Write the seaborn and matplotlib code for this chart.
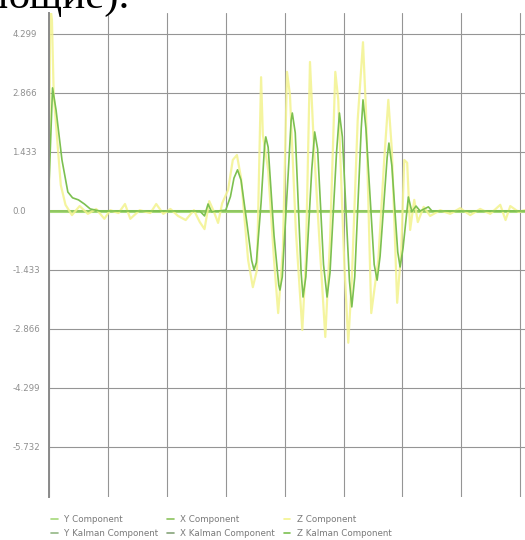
import numpy as np
import pandas as pd
import seaborn as sns
import matplotlib.pyplot as plt
from matplotlib.lines import Line2D

# accelerometer components, sample index vs value
x_flat = [0, 404]
y_comp = [0.0, 0.0]
x_comp = [0.0, 0.0]

z_x = [0, 1, 2.5, 4, 7, 10, 14, 19.5, 26, 33, 40, 47, 52, 59, 64.5, 69, 77, 86, 91, 97,
       103, 109.5, 116, 123, 128, 132, 136, 140, 143.5, 147, 152, 156, 159.5, 163, 169,
       173, 176.5, 180, 181.5, 186, 191, 194.5, 198.5, 202, 204.5, 209.5, 215, 218,
       221.5, 225, 230, 234.5, 238.5, 243, 245.5, 250.5, 254, 257, 262, 266.5, 269,
       273.5, 279.5, 284.5, 288, 291, 295.5, 299, 301.5, 304, 306.5, 310, 313, 318,
       323.5, 332, 340.5, 349, 357.5, 366, 374.5, 383, 387.5, 391.5, 398.5, 404]
z_comp = [0.51, 5.0, 4.64, 2.82, 1.72, 0.63, 0.15, -0.10, 0.12, -0.07, 0.05, -0.19, 0.02,
          -0.05, 0.17, -0.19, 0.02, -0.05, 0.17, -0.07, 0.05, -0.12, -0.22, 0.02, -0.27,
          -0.44, 0.24, -0.02, -0.29, 0.19, 0.51, 1.24, 1.36, 0.80, -1.19, -1.85, -1.43,
          3.25, 1.85, 1.0, -1.19, -2.48, -0.95, 3.38, 2.82, -0.46, -2.89, -1.19, 3.62,
          1.48, -0.95, -3.06, -0.73, 3.38, 2.70, -1.19, -3.2, -1.68, 2.21, 4.10, 2.45,
          -2.48, -1.19, 1.24, 2.70, 1.48, -2.23, -0.95, 1.24, 1.17, -0.46, 0.27, -0.27,
          0.10, -0.12, 0.02, -0.07, 0.07, -0.10, 0.05, -0.07, 0.15, -0.22, 0.12, -0.02, 0.02]

zk_x = [0, 2, 3, 6, 11, 16, 20, 25, 30, 35, 43, 128, 132, 135, 138, 144, 150, 154, 157,
        160, 163, 168, 172, 174, 176, 180, 183, 184, 186, 191, 195, 196, 198, 203, 205.5,
        206.5, 209, 214, 215.6, 218, 223, 225.5, 228, 233, 236, 238.5, 244, 246.5, 249,
        255, 257, 259.5, 265, 266.5, 269, 276, 278.5, 281, 287, 288.5, 291, 296, 298,
        300.5, 305, 308, 311.5, 315, 322, 325, 404]
z_kalman = [0.63, 2.2, 2.99, 2.45, 1.24, 0.46, 0.32, 0.27, 0.17, 0.05, 0.0, 0.0, -0.12,
            0.17, -0.02, 0.0, 0.02, 0.35, 0.8, 1.0, 0.75, -0.3, -1.2, -1.43, -1.25, 0.2,
            1.6, 1.80, 1.55, -0.6, -1.8, -1.92, -1.6, 0.9, 2.2, 2.38, 1.9, -1.5, -2.09,
            -1.6, 1.0, 1.92, 1.5, -1.3, -2.09, -1.5, 1.4, 2.38, 1.8, -1.7, -2.33, -1.6,
            2.0, 2.70, 2.0, -1.3, -1.68, -1.1, 1.3, 1.65, 1.1, -1.0, -1.36, -0.9, 0.34,
            -0.02, 0.12, 0.0, 0.10, 0.0, 0.0]

y_ticks = [4.299, 2.866, 1.433, 0.0, -1.433, -2.866, -4.299, -5.732]
y_labels = ["4.299", "2.866", "1.433", "0.0", "-1.433", "-2.866", "-4.299", "-5.732"]
x_grid = [0, 50, 100, 150, 200, 250, 300, 350, 400]

names = ["Y Component", "X Component", "Z Component",
         "Y Kalman Component", "X Kalman Component", "Z Kalman Component"]
colors = ["#a6d97a", "#8cc45e", "#f3f38e", "#93b885", "#86a47a", "#7cc050"]

sns.set_style("white")
fig = plt.figure(figsize=(5.25, 5.4), dpi=100)
ax = fig.add_axes([49 / 525, 43 / 540, 476 / 525, 484 / 540])

sns.lineplot(x=x_flat, y=y_comp, ax=ax, color=colors[0], lw=2.2)
sns.lineplot(x=x_flat, y=x_comp, ax=ax, color=colors[1], lw=1.2)
sns.lineplot(x=z_x, y=z_comp, ax=ax, color=colors[2], lw=1.6, alpha=0.85)
sns.lineplot(x=zk_x, y=z_kalman, ax=ax, color=colors[5], lw=1.2)

ax.set_xlim(0, 404)
ax.set_ylim(-6.947, 4.809)
ax.set_xticks(x_grid)
ax.set_xticklabels([])
ax.set_yticks(y_ticks)
ax.set_yticklabels(y_labels)
ax.tick_params(axis="x", length=0)
ax.tick_params(axis="y", length=6.5, width=0.8, color="#8f8f8f", pad=20,
               labelsize=6.2, labelcolor="#8f8f8f")
for lab in ax.get_yticklabels():
    lab.set_horizontalalignment("left")
ax.grid(True, color="#959595", lw=0.8)
ax.set_axisbelow(True)
for s in ["top", "right", "bottom"]:
    ax.spines[s].set_visible(False)
ax.spines["left"].set_color("#8a8a8a")
ax.spines["left"].set_linewidth(1.4)

# legend: rows are raw / kalman, columns are Y X Z
order = [0, 3, 1, 4, 2, 5]
handles = [Line2D([], [], color=colors[i], lw=1.2) for i in order]
fig.legend(handles, [names[i] for i in order], ncol=3, frameon=False,
           loc="upper left", bbox_to_anchor=(47 / 525, 1 - 511 / 540),
           fontsize=6.3, labelcolor="#7a7a7a", handlelength=0.7,
           handletextpad=0.8, columnspacing=1.0, labelspacing=0.5,
           borderpad=0)

fig.text(-0.006, 1 - 8 / 540, "ющие).", family="Liberation Serif",
         fontsize=31, va="baseline", ha="left", color="black")

fig.savefig("out.png", dpi=100)
